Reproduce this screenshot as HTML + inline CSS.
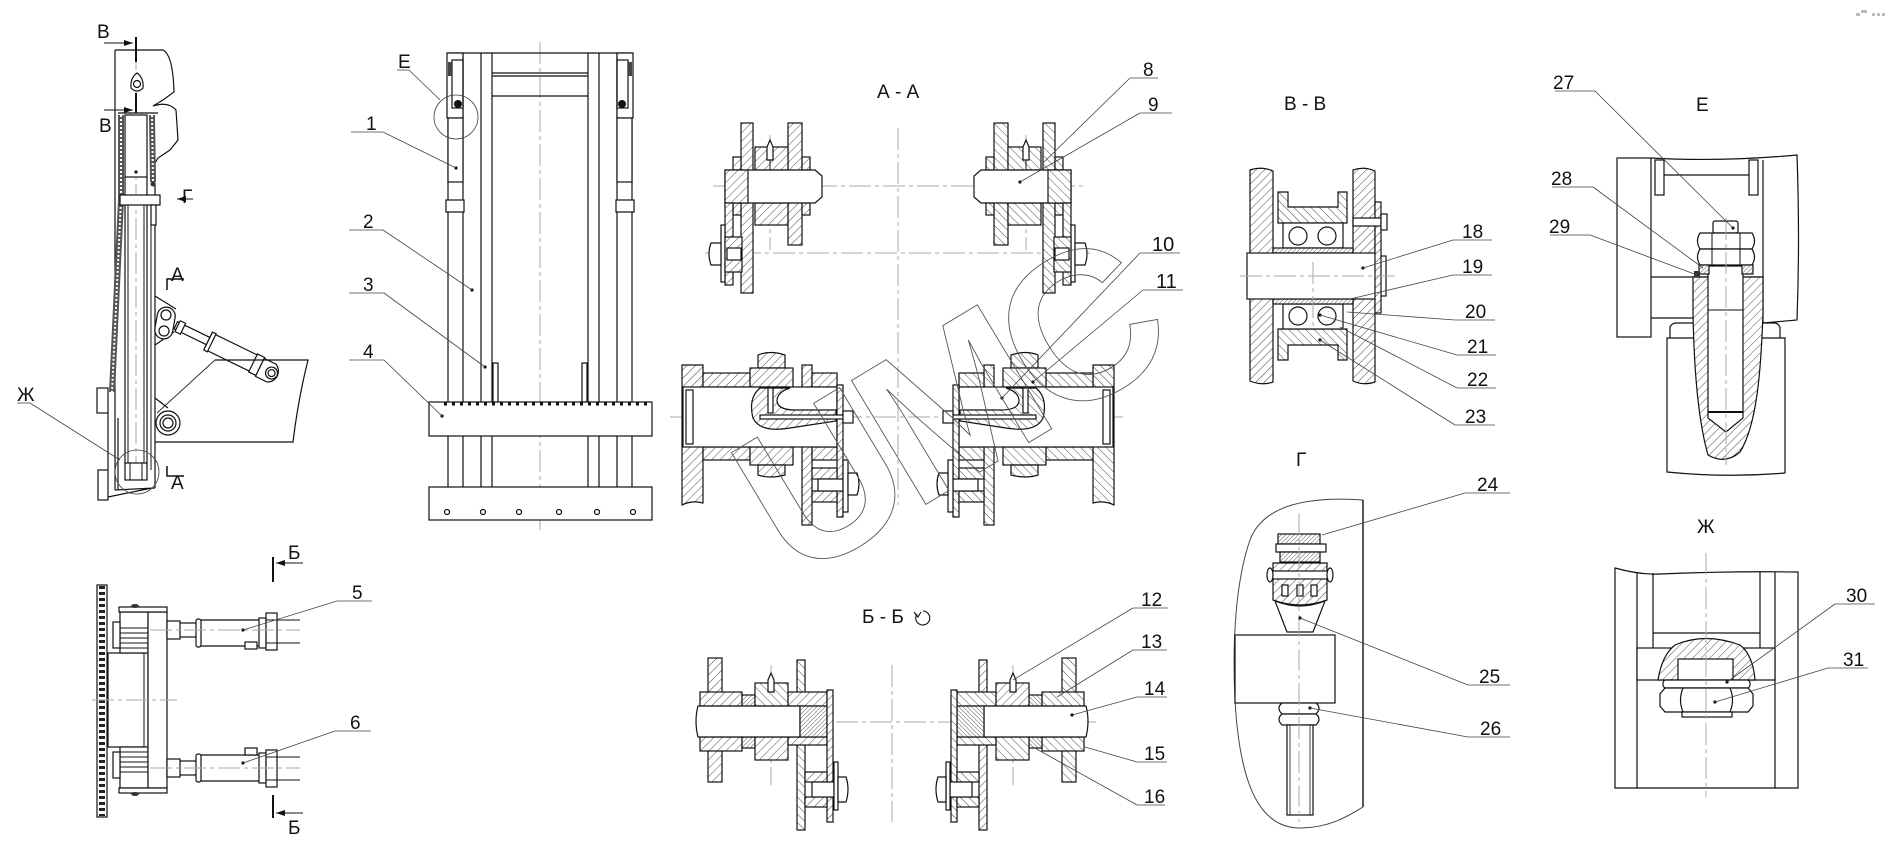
<!DOCTYPE html>
<html><head><meta charset="utf-8"><style>
html,body{margin:0;padding:0;background:#fff;}
svg{display:block}
.k{fill:#fff;stroke:#111;stroke-width:1.2}
.n{fill:none;stroke:#111;stroke-width:1.2}
.hh{fill:url(#h);stroke:#111;stroke-width:1.2}
.h2{fill:url(#g);stroke:#111;stroke-width:1.2}
.hd{fill:url(#d);stroke:#111;stroke-width:1.2}
.t{fill:none;stroke:#444;stroke-width:0.8}
.c{fill:none;stroke:#aaa;stroke-width:1;stroke-dasharray:22 4 4 4}
.w{fill:none;stroke:#555;stroke-width:0.9}
text{font-family:"Liberation Sans","DejaVu Sans",sans-serif;font-size:19px;fill:#111}
</style></head><body>
<svg width="1888" height="853" viewBox="0 0 1888 853" xmlns="http://www.w3.org/2000/svg">
<defs>
<pattern id="h" width="6" height="6" patternUnits="userSpaceOnUse" patternTransform="rotate(45)"><rect width="6" height="6" fill="#fff"/><line x1="0" y1="0" x2="0" y2="6" stroke="#333" stroke-width="0.9"/></pattern>
<pattern id="g" width="6" height="6" patternUnits="userSpaceOnUse" patternTransform="rotate(-45)"><rect width="6" height="6" fill="#fff"/><line x1="0" y1="0" x2="0" y2="6" stroke="#333" stroke-width="0.9"/></pattern>
<pattern id="d" width="3" height="3" patternUnits="userSpaceOnUse" patternTransform="rotate(45)"><rect width="3" height="3" fill="#fff"/><line x1="0" y1="0" x2="0" y2="3" stroke="#333" stroke-width="0.8"/></pattern>
<marker id="ar" markerUnits="userSpaceOnUse" markerWidth="9" markerHeight="6" refX="9" refY="3" orient="auto"><path d="M0,0 L9,3 L0,6 Z" fill="#111"/></marker>

<g id="aaU">
 <rect class="hh" x="741" y="123" width="12" height="170"/>
 <rect class="hh" x="788" y="123" width="14" height="122"/>
 <rect class="hh" x="755" y="147" width="33" height="23"/>
 <rect class="hh" x="755" y="203" width="33" height="22"/>
 <rect class="hh" x="733" y="157" width="8" height="13"/>
 <rect class="hh" x="802" y="157" width="8" height="13"/>
 <rect class="hh" x="733" y="203" width="8" height="12"/>
 <rect class="hh" x="802" y="203" width="8" height="12"/>
 <path class="k" d="M725,170 H815 L822,176 V197 L815,203 H725 Z"/>
 <rect class="hh" x="725" y="170" width="23" height="33"/>
 <rect class="hh" x="725" y="203" width="8" height="82"/>
 <rect class="k" x="721" y="225" width="4" height="57"/>
 <rect class="hh" x="725" y="237" width="17" height="35"/>
 <rect class="k" x="727" y="248" width="14" height="12"/>
 <path class="k" d="M721,243 H711 Q707,254 711,265 H721 Z"/>
 <path class="k" d="M767,160 V147 L770,140 L773,147 V160 Z"/>
 <line x1="770" y1="160" x2="770" y2="170" stroke="#111" stroke-width="1"/>
</g>

<g id="aaL">
 <path class="hh" d="M682,365 H703 V503 Q692,500 682,505 Z"/>
 <rect class="hh" x="703" y="373" width="47" height="14"/>
 <rect class="hh" x="703" y="447" width="47" height="13"/>
 <path class="hh" d="M758,368 V355 Q770,350 785,355 V368 Z"/>
 <rect class="hh" x="750" y="368" width="43" height="19"/>
 <rect class="hh" x="750" y="447" width="43" height="18"/>
 <path class="hh" d="M758,465 H785 V475 Q770,479 758,475 Z"/>
 <rect class="hh" x="802" y="365" width="10" height="160"/>
 <rect class="hh" x="812" y="373" width="25" height="14"/>
 <rect class="hh" x="812" y="447" width="25" height="13"/>
 <rect class="k" x="683" y="387" width="154" height="60"/>
 <rect class="k" x="686" y="390" width="7" height="54"/>
 <rect class="hh" x="837" y="385" width="6" height="132"/>
 <path class="hh" d="M760,388 H790 Q777,392 777,401 Q778,410 795,410 H836 V421 L790,428 Q760,433 753,418 Q748,398 760,388 Z"/>
 <rect class="k" x="768" y="388" width="5" height="25"/>
 <rect class="k" x="760" y="415" width="86" height="4"/>
 <rect class="k" x="843" y="411" width="10" height="12"/>
 <rect class="hh" x="812" y="468" width="25" height="11"/>
 <rect class="hh" x="812" y="491" width="25" height="11"/>
 <rect class="k" x="818" y="479" width="25" height="12"/>
 <rect class="k" x="843" y="460" width="5" height="52"/>
 <path class="k" d="M848,473 H857 Q861,484 857,495 H848 Z"/>
</g>

<g id="bbL">
 <rect class="hh" x="708" y="658" width="14" height="124"/>
 <rect class="h2" x="797" y="660" width="8" height="170"/>
 <rect class="hh" x="700" y="692" width="42" height="14"/>
 <rect class="hh" x="700" y="737" width="42" height="14"/>
 <rect class="hd" x="742" y="695" width="13" height="11"/>
 <rect class="hd" x="742" y="737" width="13" height="11"/>
 <rect class="h2" x="755" y="683" width="33" height="23"/>
 <rect class="hh" x="755" y="737" width="33" height="23"/>
 <rect class="hh" x="788" y="692" width="39" height="14"/>
 <rect class="hh" x="788" y="737" width="39" height="8"/>
 <path class="k" d="M698,706 H800 V737 H698 Q694,721 698,706 Z"/>
 <rect class="hd" x="800" y="706" width="27" height="31"/>
 <rect class="hh" x="827" y="690" width="6" height="132"/>
 <path class="k" d="M768,692 V680 L771,673 L774,680 V692 Z"/>
 <rect class="hh" x="805" y="772" width="22" height="10"/>
 <rect class="hh" x="805" y="797" width="22" height="10"/>
 <rect class="k" x="812" y="782" width="22" height="15"/>
 <rect class="k" x="834" y="762" width="4" height="48"/>
 <path class="k" d="M838,777 H846 Q850,789 846,802 H838 Z"/>
</g>
</defs>

<rect width="1888" height="853" fill="#fff"/>

<rect x="1856" y="13" width="4" height="3" fill="#bbb"/><rect x="1861" y="10" width="6" height="3" fill="#bbb"/>
<rect x="1872" y="13" width="3" height="3" fill="#bbb"/><rect x="1877" y="13" width="3" height="3" fill="#bbb"/><rect x="1882" y="13" width="3" height="3" fill="#bbb"/>

<!-- LEFT SIDE VIEW -->
<line class="c" x1="136" y1="48" x2="136" y2="482"/>
<path class="n" d="M115,50 H163 Q173,55 174,92 L163,100 L153,106 Q168,101 176,110 L178,140 L170,150 L158,158 L155,163"/>
<line x1="115" y1="50" x2="115" y2="490" stroke="#111" stroke-width="1.2"/>
<line x1="118" y1="113" x2="158" y2="113" stroke="#111" stroke-width="1.2"/>
<path d="M121,115 L121,200 L112,392" fill="none" stroke="#555" stroke-width="6"/>
<path d="M121,115 L121,200 L112,392" fill="none" stroke="#fff" stroke-width="2" stroke-dasharray="2 2"/>
<path d="M152,115 L153,182" fill="none" stroke="#555" stroke-width="6"/>
<path d="M152,115 L153,182" fill="none" stroke="#fff" stroke-width="2" stroke-dasharray="2 2"/>
<line x1="125" y1="177" x2="125" y2="465" stroke="#111" stroke-width="1.2"/>
<line x1="147" y1="177" x2="147" y2="465" stroke="#111" stroke-width="1.2"/>
<line x1="128" y1="205" x2="128" y2="465" stroke="#111" stroke-width="1"/>
<line x1="144" y1="205" x2="144" y2="465" stroke="#111" stroke-width="1"/>
<line x1="155" y1="183" x2="155" y2="488" stroke="#111" stroke-width="1.2"/>
<line x1="151" y1="205" x2="151" y2="470" stroke="#111" stroke-width="1"/>
<rect class="k" x="125" y="115" width="22" height="62"/>
<circle cx="136" cy="172" r="1.6" fill="#111"/>
<rect class="k" x="120" y="195" width="40" height="10"/>
<rect class="k" x="151" y="205" width="5" height="20"/>
<circle cx="153" cy="184" r="2.5" fill="#333"/>
<path class="k" d="M131,88 Q130,78 137,73 Q144,78 143,88 Q137,94 131,88 Z"/>
<circle class="k" cx="137" cy="84" r="3.5"/>
<path class="n" d="M155,296 L176,309 M174,332 L155,345"/>
<rect class="k" x="156" y="307" width="18" height="32" rx="9" transform="rotate(10 165 323)"/>
<circle class="k" cx="166" cy="315" r="5"/><circle class="k" cx="164" cy="331" r="5"/>
<g transform="translate(165,320) rotate(26)">
 <rect class="k" x="12" y="-4" width="38" height="8"/>
 <rect class="k" x="14" y="-6" width="6" height="12"/>
 <rect class="k" x="48" y="-9" width="58" height="18"/>
 <rect class="k" x="48" y="-10" width="4" height="20"/>
 <rect class="k" x="98" y="-10" width="8" height="20"/>
 <path class="k" d="M106,-9 H119 A11,11 0 0 1 119,11 H106 Z"/>
 <circle class="k" cx="119" cy="1" r="6"/><circle class="n" cx="119" cy="1" r="3.5"/>
</g>
<path class="n" d="M215,360 H308 Q298,400 293,442 H170"/>
<line x1="215" y1="360" x2="157" y2="413" stroke="#333" stroke-width="1"/>
<path class="n" d="M155,398 L168,408 M155,442 L170,442"/>
<circle class="k" cx="168" cy="423" r="12"/><circle class="n" cx="168" cy="423" r="8"/><circle class="n" cx="168" cy="423" r="5"/>
<rect class="k" x="125" y="463" width="22" height="17"/>
<line x1="130" y1="463" x2="130" y2="480" stroke="#111"/><line x1="142" y1="463" x2="142" y2="480" stroke="#111"/>
<rect class="k" x="97" y="388" width="11" height="25"/>
<rect class="k" x="98" y="470" width="10" height="30"/>
<line x1="108" y1="413" x2="108" y2="470" stroke="#111" stroke-width="1.2"/>
<line x1="118" y1="418" x2="118" y2="490" stroke="#111" stroke-width="1.2"/>
<path class="n" d="M108,497 L152,488 M115,490 L155,488"/>
<circle class="t" cx="137" cy="472" r="22"/>
<text x="97" y="38">В</text>
<line x1="104" y1="43" x2="133" y2="43" stroke="#111" stroke-width="1" marker-end="url(#ar)"/>
<line x1="136" y1="37" x2="136" y2="62" stroke="#111" stroke-width="2"/>
<text x="99" y="132">В</text>
<line x1="104" y1="110" x2="133" y2="110" stroke="#111" stroke-width="1" marker-end="url(#ar)"/>
<line x1="136" y1="93" x2="136" y2="113" stroke="#111" stroke-width="2"/>
<text x="182" y="203">Г</text>
<line x1="193" y1="199" x2="177" y2="199" stroke="#111" stroke-width="1" marker-end="url(#ar)"/>
<text x="171" y="281">А</text>
<path d="M167,290 V279 H184" fill="none" stroke="#111" stroke-width="1.5"/>
<text x="171" y="489">А</text>
<path d="M167,466 V476 H184" fill="none" stroke="#111" stroke-width="1.5"/>
<text x="17" y="401">Ж</text>
<line class="t" x1="17" y1="403" x2="30" y2="403"/>
<line class="t" x1="30" y1="403" x2="120" y2="460"/>

<!-- MIDDLE FRAME VIEW -->
<line class="c" x1="540" y1="42" x2="540" y2="530"/>
<line x1="447" y1="53" x2="633" y2="53" stroke="#111" stroke-width="1.2"/>
<g stroke="#111" stroke-width="1.2">
<line x1="448" y1="118" x2="448" y2="487"/><line x1="463" y1="53" x2="463" y2="487"/>
<line x1="481" y1="53" x2="481" y2="487"/><line x1="492" y1="53" x2="492" y2="487"/>
<line x1="588" y1="53" x2="588" y2="487"/><line x1="599" y1="53" x2="599" y2="487"/>
<line x1="617" y1="53" x2="617" y2="487"/><line x1="632" y1="118" x2="632" y2="487"/>
<line x1="492" y1="73" x2="588" y2="73"/><line x1="492" y1="76" x2="588" y2="76"/>
<line x1="492" y1="96" x2="588" y2="96"/>
</g>
<rect class="k" x="447" y="53" width="16" height="65"/>
<rect class="n" x="452" y="60" width="11" height="48"/>
<rect x="448" y="62" width="4" height="14" fill="#444"/>
<circle cx="458" cy="104" r="4" fill="#111"/>
<rect class="k" x="617" y="53" width="16" height="65"/>
<rect class="n" x="617" y="60" width="11" height="48"/>
<rect x="628" y="62" width="4" height="14" fill="#444"/>
<circle cx="622" cy="104" r="4" fill="#111"/>
<rect class="k" x="448" y="118" width="15" height="64"/>
<rect class="k" x="617" y="118" width="15" height="64"/>
<circle cx="456" cy="168" r="1.6" fill="#111"/>
<circle cx="472" cy="290" r="1.6" fill="#111"/>
<circle cx="485" cy="367" r="1.6" fill="#111"/>
<rect class="k" x="446" y="200" width="18" height="12"/>
<rect class="k" x="616" y="200" width="18" height="12"/>
<rect class="k" x="493" y="363" width="5" height="39"/>
<rect class="k" x="582" y="363" width="5" height="39"/>
<rect class="k" x="429" y="402" width="223" height="34"/>
<line x1="444" y1="404" x2="648" y2="404" stroke="#111" stroke-width="3" stroke-dasharray="3 5"/>
<circle cx="442" cy="416" r="1.6" fill="#111"/>
<rect class="k" x="429" y="487" width="223" height="33"/>
<g class="n" stroke-width="1"><circle cx="447" cy="512" r="2.5"/><circle cx="483" cy="512" r="2.5"/><circle cx="519" cy="512" r="2.5"/><circle cx="559" cy="512" r="2.5"/><circle cx="597" cy="512" r="2.5"/><circle cx="633" cy="512" r="2.5"/></g>
<circle class="t" cx="456" cy="117" r="22"/>
<text x="398" y="68">Е</text>
<line class="t" x1="397" y1="70" x2="409" y2="70"/><line class="t" x1="409" y1="70" x2="440" y2="100"/>
<text x="366" y="130">1</text><line class="t" x1="351" y1="132" x2="383" y2="132"/><line class="t" x1="383" y1="132" x2="456" y2="168"/>
<text x="363" y="228">2</text><line class="t" x1="349" y1="230" x2="383" y2="230"/><line class="t" x1="383" y1="230" x2="472" y2="290"/>
<text x="363" y="291">3</text><line class="t" x1="349" y1="293" x2="384" y2="293"/><line class="t" x1="384" y1="293" x2="485" y2="367"/>
<text x="363" y="358">4</text><line class="t" x1="349" y1="360" x2="384" y2="360"/><line class="t" x1="384" y1="360" x2="442" y2="416"/>

<!-- A-A SECTION -->
<text x="877" y="98">А - А</text>
<line class="c" x1="898" y1="128" x2="898" y2="505"/>
<line class="c" x1="713" y1="186" x2="1083" y2="186"/>
<line class="c" x1="705" y1="253" x2="1090" y2="253"/>
<line class="c" x1="670" y1="417" x2="1123" y2="417"/>
<line class="c" x1="770" y1="135" x2="770" y2="250"/>
<line class="c" x1="1026" y1="135" x2="1026" y2="250"/>
<use href="#aaU"/>
<use href="#aaU" transform="translate(1796,0) scale(-1,1)"/>
<use href="#aaL"/>
<use href="#aaL" transform="translate(1796,0) scale(-1,1)"/>
<circle cx="1020" cy="182" r="1.6" fill="#111"/>
<circle cx="1002" cy="398" r="1.6" fill="#111"/>
<circle cx="1033" cy="382" r="1.6" fill="#111"/>
<text x="1143" y="76">8</text><line class="t" x1="1130" y1="78" x2="1158" y2="78"/><line class="t" x1="1130" y1="78" x2="1043" y2="163"/>
<text x="1148" y="111">9</text><line class="t" x1="1140" y1="113" x2="1172" y2="113"/><line class="t" x1="1140" y1="113" x2="1020" y2="182"/>
<text x="1152" y="251" style="font-size:20px">10</text><line class="t" x1="1140" y1="253" x2="1180" y2="253"/><line class="t" x1="1140" y1="253" x2="1002" y2="398"/>
<text x="1156" y="288" style="font-size:20px">11</text><line class="t" x1="1143" y1="290" x2="1183" y2="290"/><line class="t" x1="1143" y1="290" x2="1033" y2="382"/>

<!-- watermark -->
<text x="0" y="0" transform="translate(795,583) rotate(-31)" style="font-size:210px;font-weight:bold;letter-spacing:-13px;fill:none;stroke:#555;stroke-width:0.9">UMC</text>

<!-- Б-Б SECTION -->
<text x="862" y="623">Б - Б</text>
<path d="M917,614 A7,7 0 1 0 923,611" fill="none" stroke="#111" stroke-width="1.1"/>
<path d="M914,612 L918,617 L921,612" fill="none" stroke="#111" stroke-width="1.1"/>
<line class="c" x1="892" y1="665" x2="892" y2="822"/>
<line class="c" x1="700" y1="722" x2="1100" y2="722"/>
<line class="c" x1="771" y1="665" x2="771" y2="785"/>
<line class="c" x1="1013" y1="665" x2="1013" y2="785"/>
<use href="#bbL"/>
<use href="#bbL" transform="translate(1784,0) scale(-1,1)"/>
<text x="1141" y="606">12</text><line class="t" x1="1133" y1="608" x2="1168" y2="608"/><line class="t" x1="1133" y1="608" x2="1013" y2="680"/>
<text x="1141" y="648">13</text><line class="t" x1="1133" y1="650" x2="1167" y2="650"/><line class="t" x1="1133" y1="650" x2="1057" y2="697"/>
<text x="1144" y="695">14</text><line class="t" x1="1137" y1="697" x2="1167" y2="697"/><line class="t" x1="1137" y1="697" x2="1072" y2="715"/>
<circle cx="1072" cy="715" r="1.6" fill="#111"/>
<text x="1144" y="760">15</text><line class="t" x1="1137" y1="762" x2="1167" y2="762"/><line class="t" x1="1137" y1="762" x2="1085" y2="747"/>
<text x="1144" y="803">16</text><line class="t" x1="1137" y1="805" x2="1165" y2="805"/><line class="t" x1="1137" y1="805" x2="1033" y2="747"/>

<!-- B-B SECTION -->
<text x="1284" y="110">В - В</text>
<path class="hh" d="M1250,170 Q1262,166 1273,171 V382 Q1262,386 1250,381 Z"/>
<path class="hh" d="M1353,170 Q1364,166 1375,171 V382 Q1364,386 1353,381 Z"/>
<path class="h2" d="M1278,192 H1288 V207 H1338 V192 H1347 V223 H1278 Z"/>
<path class="h2" d="M1278,360 H1288 V345 H1338 V360 H1347 V329 H1278 Z"/>
<rect class="k" x="1283" y="223" width="60" height="25"/>
<rect class="k" x="1283" y="304" width="60" height="25"/>
<circle class="k" cx="1298" cy="236" r="9"/><circle class="k" cx="1327" cy="236" r="9"/>
<circle class="k" cx="1298" cy="316" r="9"/><circle class="k" cx="1327" cy="316" r="9"/>
<rect class="hd" x="1273" y="248" width="80" height="5"/>
<rect class="hd" x="1273" y="299" width="80" height="5"/>
<rect class="k" x="1247" y="253" width="130" height="46"/>
<rect class="k" x="1377" y="256" width="9" height="40"/>
<rect class="hh" x="1375" y="202" width="6" height="111"/>
<rect class="k" x="1353" y="218" width="28" height="8"/>
<rect class="k" x="1381" y="214" width="6" height="16"/>
<line class="c" x1="1240" y1="276" x2="1395" y2="276"/>
<line class="c" x1="1313" y1="262" x2="1313" y2="330"/>
<circle cx="1363" cy="268" r="1.6" fill="#111"/>
<circle cx="1320" cy="315" r="1.6" fill="#111"/>
<circle cx="1320" cy="340" r="1.6" fill="#111"/>
<text x="1462" y="238">18</text><line class="t" x1="1453" y1="240" x2="1492" y2="240"/><line class="t" x1="1453" y1="240" x2="1363" y2="268"/>
<text x="1462" y="273">19</text><line class="t" x1="1453" y1="275" x2="1492" y2="275"/><line class="t" x1="1453" y1="275" x2="1350" y2="299"/>
<text x="1465" y="318">20</text><line class="t" x1="1455" y1="320" x2="1495" y2="320"/><line class="t" x1="1455" y1="320" x2="1347" y2="312"/>
<text x="1467" y="353">21</text><line class="t" x1="1457" y1="355" x2="1496" y2="355"/><line class="t" x1="1457" y1="355" x2="1320" y2="315"/>
<text x="1467" y="386">22</text><line class="t" x1="1457" y1="388" x2="1496" y2="388"/><line class="t" x1="1457" y1="388" x2="1340" y2="327"/>
<text x="1465" y="423">23</text><line class="t" x1="1455" y1="425" x2="1495" y2="425"/><line class="t" x1="1455" y1="425" x2="1320" y2="340"/>

<!-- E VIEW -->
<text x="1696" y="111">Е</text>
<rect class="k" x="1617" y="158" width="34" height="179"/>
<path class="n" d="M1651,158 Q1720,162 1797,155 Q1800,240 1797,320 L1763,323"/>
<line x1="1763" y1="160" x2="1763" y2="323" stroke="#111" stroke-width="1.2"/>
<rect class="k" x="1655" y="160" width="9" height="35"/>
<rect class="k" x="1749" y="160" width="9" height="35"/>
<line x1="1664" y1="175" x2="1749" y2="175" stroke="#111" stroke-width="1.2"/>
<line x1="1651" y1="277" x2="1763" y2="277" stroke="#111" stroke-width="1.2"/>
<line x1="1651" y1="318" x2="1695" y2="318" stroke="#111" stroke-width="1.2"/>
<path class="k" d="M1670,338 V327 Q1672,323 1676,323 H1774 Q1778,323 1780,327 V338"/>
<path class="k" d="M1667,338 H1785 V473 Q1726,478 1667,472 Z"/>
<path class="hh" d="M1693,277 H1763 V313 C1761,370 1757,425 1740,452 Q1725,465 1708,455 C1698,420 1694,370 1693,313 Z"/>
<path class="k" d="M1708,266 H1743 V418 L1726,432 L1708,418 Z"/>
<line x1="1708" y1="412" x2="1743" y2="412" stroke="#111" stroke-width="2"/>
<line x1="1708" y1="310" x2="1743" y2="310" stroke="#111" stroke-width="1"/>
<rect class="k" x="1713" y="221" width="25" height="12" rx="2"/>
<path class="k" d="M1700,233 H1752 Q1757,241 1752,249 H1700 Q1695,241 1700,233 Z"/>
<path class="k" d="M1700,249 H1752 Q1757,257 1752,265 H1700 Q1695,257 1700,249 Z"/>
<line x1="1712" y1="233" x2="1712" y2="265" stroke="#111" stroke-width="1"/>
<line x1="1740" y1="233" x2="1740" y2="265" stroke="#111" stroke-width="1"/>
<rect class="hd" x="1699" y="265" width="10" height="9"/>
<rect class="hd" x="1742" y="265" width="11" height="9"/>
<rect x="1694" y="271" width="6" height="6" fill="#333"/>
<line class="c" x1="1726" y1="218" x2="1726" y2="465"/>
<circle cx="1733" cy="228" r="1.6" fill="#111"/>
<text x="1553" y="89">27</text><line class="t" x1="1555" y1="91" x2="1595" y2="91"/><line class="t" x1="1595" y1="91" x2="1733" y2="228"/>
<text x="1551" y="185">28</text><line class="t" x1="1552" y1="187" x2="1593" y2="187"/><line class="t" x1="1593" y1="187" x2="1703" y2="268"/>
<text x="1549" y="233">29</text><line class="t" x1="1550" y1="235" x2="1590" y2="235"/><line class="t" x1="1590" y1="235" x2="1697" y2="275"/>

<!-- Ж VIEW -->
<text x="1697" y="533">Ж</text>
<path class="n" d="M1615,568 Q1640,575 1660,574 Q1730,571 1798,572 V788 H1615 Z"/>
<line x1="1637" y1="573" x2="1637" y2="788" stroke="#111" stroke-width="1.2"/>
<line x1="1775" y1="572" x2="1775" y2="788" stroke="#111" stroke-width="1.2"/>
<line x1="1653" y1="573" x2="1653" y2="648" stroke="#111" stroke-width="1.2"/>
<line x1="1760" y1="572" x2="1760" y2="648" stroke="#111" stroke-width="1.2"/>
<line x1="1653" y1="633" x2="1760" y2="633" stroke="#111" stroke-width="1.2"/>
<rect class="k" x="1637" y="648" width="138" height="32"/>
<path class="hh" d="M1658,680 Q1662,655 1675,645 Q1705,632 1740,645 Q1753,655 1755,680 Z"/>
<rect class="k" x="1678" y="659" width="55" height="21"/>
<rect class="k" x="1663" y="680" width="87" height="8" rx="3"/>
<path class="k" d="M1665,688 H1748 L1753,694 V706 L1748,712 H1665 L1660,706 V694 Z"/>
<path class="n" d="M1683,688 Q1678,700 1683,712 M1730,688 Q1735,700 1730,712" stroke-width="1"/>
<rect class="k" x="1682" y="712" width="50" height="5"/>
<line class="c" x1="1706" y1="553" x2="1706" y2="797"/>
<circle cx="1727" cy="682" r="1.6" fill="#111"/><circle cx="1715" cy="702" r="1.6" fill="#111"/>
<text x="1846" y="602">30</text><line class="t" x1="1835" y1="604" x2="1875" y2="604"/><line class="t" x1="1835" y1="604" x2="1727" y2="682"/>
<text x="1843" y="666">31</text><line class="t" x1="1828" y1="668" x2="1868" y2="668"/><line class="t" x1="1828" y1="668" x2="1715" y2="702"/>

<!-- Г VIEW -->
<text x="1296" y="466">Г</text>
<path d="M1363,500 C1320,497 1265,500 1250,540 C1236,580 1232,640 1235,700 C1240,790 1262,828 1300,828 C1330,828 1350,815 1363,807" fill="none" stroke="#444" stroke-width="1"/>
<line x1="1363" y1="500" x2="1363" y2="807" stroke="#111" stroke-width="1.4"/>
<rect class="k" x="1235" y="635" width="100" height="68"/>
<rect class="hd" x="1278" y="534" width="42" height="10"/>
<rect class="k" x="1276" y="544" width="50" height="8"/>
<rect class="hd" x="1280" y="552" width="40" height="10"/>
<path class="hh" d="M1273,563 H1327 V600 Q1300,610 1273,600 Z"/>
<rect class="k" x="1282" y="585" width="6" height="11"/><rect class="k" x="1297" y="585" width="6" height="11"/><rect class="k" x="1311" y="585" width="6" height="11"/>
<rect class="k" x="1270" y="571" width="60" height="8"/>
<ellipse class="k" cx="1270" cy="575" rx="3" ry="7"/><ellipse class="k" cx="1330" cy="575" rx="3" ry="7"/>
<path class="k" d="M1275,601 Q1300,611 1325,601 L1313,632 H1287 Z"/>
<path class="k" d="M1282,703 H1316 Q1322,708 1316,714 H1282 Q1276,708 1282,703 Z"/>
<path class="k" d="M1282,714 H1316 Q1322,719 1316,725 H1282 Q1276,719 1282,714 Z"/>
<rect class="k" x="1287" y="725" width="26" height="90"/>
<line x1="1290" y1="725" x2="1290" y2="815" stroke="#111" stroke-width="0.8"/>
<line x1="1310" y1="725" x2="1310" y2="815" stroke="#111" stroke-width="0.8"/>
<line class="c" x1="1299" y1="513" x2="1299" y2="822"/>
<circle cx="1300" cy="618" r="1.6" fill="#111"/><circle cx="1310" cy="708" r="1.6" fill="#111"/>
<text x="1477" y="491">24</text><line class="t" x1="1465" y1="493" x2="1510" y2="493"/><line class="t" x1="1465" y1="493" x2="1322" y2="535"/>
<text x="1479" y="683">25</text><line class="t" x1="1468" y1="685" x2="1510" y2="685"/><line class="t" x1="1468" y1="685" x2="1300" y2="618"/>
<text x="1480" y="735">26</text><line class="t" x1="1468" y1="737" x2="1510" y2="737"/><line class="t" x1="1468" y1="737" x2="1310" y2="708"/>

<!-- BOTTOM LEFT VIEW -->
<rect class="n" x="97" y="585" width="10" height="232"/>
<line x1="102" y1="586" x2="102" y2="816" stroke="#222" stroke-width="6" stroke-dasharray="3 3"/>
<rect class="k" x="108" y="653" width="40" height="94"/>
<line x1="144" y1="653" x2="144" y2="747" stroke="#111"/>
<rect class="k" x="120" y="612" width="28" height="41"/>
<rect class="k" x="120" y="747" width="28" height="41"/>
<g stroke="#111" stroke-width="1">
<line x1="120" y1="628" x2="148" y2="628"/><line x1="120" y1="633" x2="148" y2="633"/><line x1="120" y1="638" x2="148" y2="638"/><line x1="120" y1="643" x2="148" y2="643"/><line x1="120" y1="648" x2="148" y2="648"/>
<line x1="120" y1="752" x2="148" y2="752"/><line x1="120" y1="757" x2="148" y2="757"/><line x1="120" y1="762" x2="148" y2="762"/><line x1="120" y1="767" x2="148" y2="767"/><line x1="120" y1="772" x2="148" y2="772"/>
</g>
<rect class="k" x="113" y="622" width="7" height="26"/><rect class="k" x="113" y="752" width="7" height="26"/>
<rect class="k" x="148" y="612" width="19" height="176"/>
<rect class="k" x="119" y="607" width="48" height="5"/>
<rect class="k" x="119" y="788" width="48" height="5"/>
<ellipse cx="135" cy="606" rx="4" ry="2" fill="#333"/><ellipse cx="135" cy="794" rx="4" ry="2" fill="#333"/>
<rect class="k" x="167" y="623" width="30" height="14"/>
<rect class="k" x="167" y="621" width="13" height="18"/>
<rect class="k" x="197" y="620" width="66" height="26" rx="3"/>
<rect class="k" x="196" y="619" width="5" height="28" rx="2"/>
<rect class="k" x="259" y="618" width="7" height="30"/>
<rect class="k" x="266" y="613" width="11" height="37"/>
<line x1="266" y1="620" x2="300" y2="620" stroke="#111"/><line x1="266" y1="643" x2="300" y2="643" stroke="#111"/>
<rect class="k" x="245" y="642" width="12" height="7"/>
<rect class="k" x="167" y="761" width="30" height="14"/>
<rect class="k" x="167" y="759" width="13" height="18"/>
<rect class="k" x="197" y="755" width="66" height="26" rx="3"/>
<rect class="k" x="196" y="754" width="5" height="28" rx="2"/>
<rect class="k" x="259" y="753" width="7" height="30"/>
<rect class="k" x="266" y="750" width="11" height="37"/>
<line x1="266" y1="757" x2="300" y2="757" stroke="#111"/><line x1="266" y1="780" x2="300" y2="780" stroke="#111"/>
<rect class="k" x="245" y="748" width="12" height="7"/>
<line class="c" x1="92" y1="700" x2="177" y2="700"/>
<line class="c" x1="150" y1="630" x2="300" y2="630"/>
<line class="c" x1="150" y1="768" x2="300" y2="768"/>
<circle cx="243" cy="630" r="1.6" fill="#111"/><circle cx="243" cy="763" r="1.6" fill="#111"/>
<text x="288" y="559">Б</text>
<line x1="273" y1="557" x2="273" y2="582" stroke="#111" stroke-width="2"/>
<line x1="303" y1="563" x2="276" y2="563" stroke="#111" stroke-width="1" marker-end="url(#ar)"/>
<text x="288" y="834">Б</text>
<line x1="273" y1="795" x2="273" y2="818" stroke="#111" stroke-width="2"/>
<line x1="303" y1="813" x2="276" y2="813" stroke="#111" stroke-width="1" marker-end="url(#ar)"/>
<text x="352" y="599">5</text><line class="t" x1="337" y1="601" x2="372" y2="601"/><line class="t" x1="337" y1="601" x2="243" y2="630"/>
<text x="350" y="729">6</text><line class="t" x1="335" y1="731" x2="371" y2="731"/><line class="t" x1="335" y1="731" x2="243" y2="763"/>
</svg>
</body></html>
